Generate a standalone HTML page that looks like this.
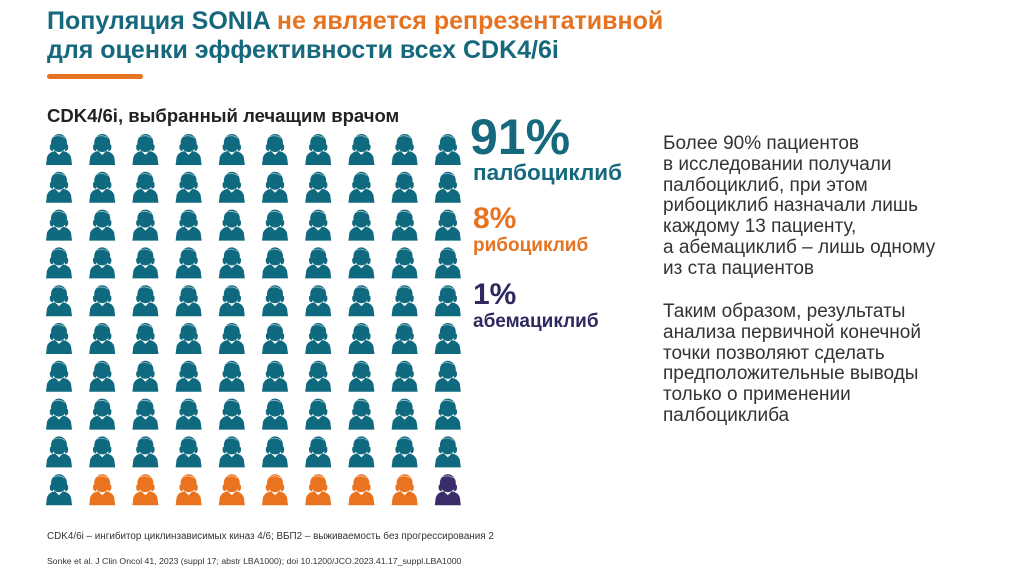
<!DOCTYPE html>
<html><head><meta charset="utf-8"><style>
body{margin:0;width:1024px;height:574px;background:#fff;font-family:"Liberation Sans",sans-serif;position:relative;overflow:hidden}
.a{position:absolute;white-space:nowrap}
</style></head><body>
<div class="a" style="left:47px;top:7px;font-size:25px;font-weight:bold;line-height:29px;color:#16687d">Популяция SONIA <span style="color:#e57322">не является репрезентативной</span><br>для оценки эффективности всех CDK4/6i</div>
<div class="a" style="left:47px;top:74px;width:96px;height:5px;border-radius:3px;background:#e57322"></div>
<div class="a" style="left:47px;top:105px;font-size:18.5px;font-weight:bold;color:#222">CDK4/6i, выбранный лечащим врачом</div>
<svg class="a" id="chart" style="left:0;top:0" width="1024" height="574"></svg>
<div class="a" style="left:470px;top:108px;font-size:50px;font-weight:bold;color:#16687d">91%</div>
<div class="a" style="left:473px;top:160px;font-size:22.5px;font-weight:bold;color:#16687d">палбоциклиб</div>
<div class="a" style="left:473px;top:202px;font-size:30px;font-weight:bold;color:#e57322">8%</div>
<div class="a" style="left:473px;top:235px;font-size:19px;font-weight:bold;color:#e57322">рибоциклиб</div>
<div class="a" style="left:473px;top:278px;font-size:30px;font-weight:bold;color:#2e2a5f">1%</div>
<div class="a" style="left:473px;top:311px;font-size:19px;font-weight:bold;color:#2e2a5f">абемациклиб</div>
<div class="a" style="left:663px;top:134px;font-size:19px;line-height:20.8px;color:#333">Более 90% пациентов<br>в исследовании получали<br>палбоциклиб, при этом<br>рибоциклиб назначали лишь<br>каждому 13 пациенту,<br>а абемациклиб – лишь одному<br>из ста пациентов</div>
<div class="a" style="left:663px;top:302px;font-size:19px;line-height:20.8px;color:#333">Таким образом, результаты<br>анализа первичной конечной<br>точки позволяют сделать<br>предположительные выводы<br>только о применении<br>палбоциклиба</div>
<div class="a" style="left:47px;top:531px;font-size:9.9px;color:#333">CDK4/6i – ингибитор циклинзависимых киназ 4/6; ВБП2 – выживаемость без прогрессирования 2</div>
<div class="a" style="left:47px;top:556px;font-size:8.7px;color:#333">Sonke et al. J Clin Oncol 41, 2023 (suppl 17; abstr LBA1000); doi 10.1200/JCO.2023.41.17_suppl.LBA1000</div>
<script>
const drugs=["palbociclib","ribociclib","abemaciclib"];
const counts=[91,8,1];
const colors=["#0f6a7f","#ea7320","#3a2d6a"];
const cols=10,rows=10,x0=44,dx=43.2,y0=133,dy=37.8;
const svg=document.getElementById('chart');
const NS="http://www.w3.org/2000/svg";
const order=[];
counts.forEach((c,i)=>{for(let k=0;k<c;k++)order.push(i);});
order.forEach((d,idx)=>{
  const r=Math.floor(idx/cols),c=idx%cols;
  const g=document.createElementNS(NS,'g');
  
  
  g.setAttribute('transform',`translate(${x0+c*dx},${y0+r*dy})`);
  g.setAttribute('fill',colors[d]);
  g.innerHTML='<path d="M2 32 L3 24 Q5 19 11 18 L15 22 L19 18 Q25 19 27 24 L28 32 Z"/><ellipse cx="15" cy="10" rx="8" ry="9"/><path d="M6 12 Q5 18 9 18 L9 10 Z M24 12 Q25 18 21 18 L21 10 Z"/><path d="M9 4 Q15 1 21 5" stroke="#fff" stroke-width="0.8" fill="none" opacity="0.6"/>';
  svg.appendChild(g);
});
</script>
</body></html>
